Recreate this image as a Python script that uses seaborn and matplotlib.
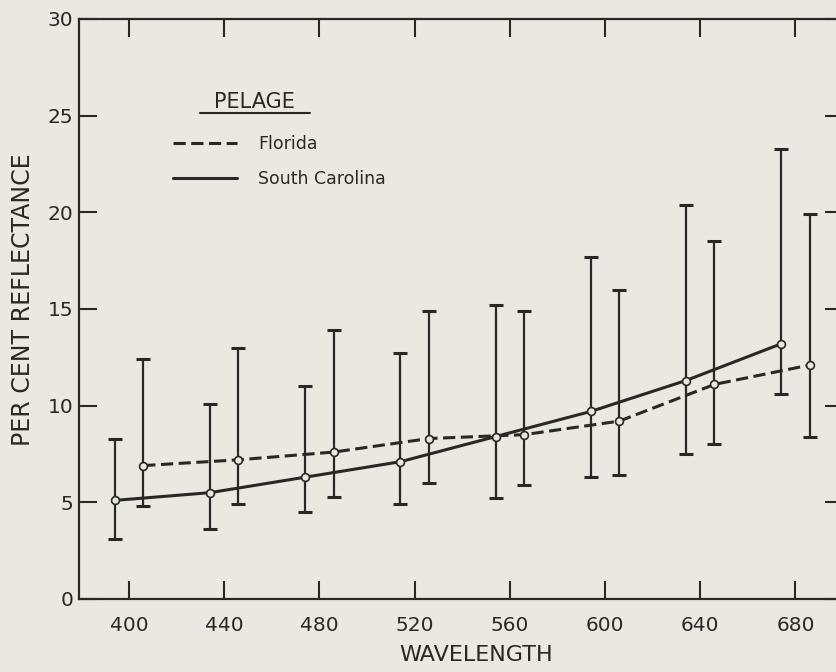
import numpy as np
import pandas as pd
import matplotlib
matplotlib.use('Agg')
import matplotlib.pyplot as plt
from matplotlib.lines import Line2D
import seaborn as sns

# wavelength (nm) and pelage reflectance (%)
wavelengths = [400, 440, 480, 520, 560, 600, 640, 680]

florida_mean = [6.9, 7.2, 7.6, 8.3, 8.5, 9.2, 11.1, 12.1]
florida_low = [4.8, 4.9, 5.3, 6.0, 5.9, 6.4, 8.0, 8.4]
florida_high = [12.4, 13.0, 13.9, 14.9, 14.9, 16.0, 18.5, 19.9]

carolina_mean = [5.1, 5.5, 6.3, 7.1, 8.4, 9.7, 11.3, 13.2]
carolina_low = [3.1, 3.6, 4.5, 4.9, 5.2, 6.3, 7.5, 10.6]
carolina_high = [8.3, 10.1, 11.0, 12.7, 15.2, 17.7, 20.4, 23.3]

series = ['Florida', 'South Carolina']
x_ticks = [400, 440, 480, 520, 560, 600, 640, 680]
y_ticks = [0, 5, 10, 15, 20, 25, 30]

paper = '#ebe8e2'
ink = '#2a2826'

frames = []
for name, m, lo, hi, shift in [('Florida', florida_mean, florida_low, florida_high, 6),
                               ('South Carolina', carolina_mean, carolina_low, carolina_high, -6)]:
    frames.append(pd.DataFrame({'series': name, 'wavelength': wavelengths,
                                'mean': m, 'low': lo, 'high': hi, 'shift': shift}))
df = pd.concat(frames, ignore_index=True)
df['x'] = df['wavelength'] + df['shift']

sns.set_theme(style='ticks')
plt.rcParams['font.family'] = ['DejaVu Sans']
plt.rcParams['text.color'] = ink

fig = plt.figure(figsize=(8.37, 6.72), dpi=100, facecolor=paper)
ax = fig.add_axes([79 / 837, 73 / 672, 764 / 837, 580 / 672])
ax.set_facecolor(paper)

sns.lineplot(data=df, x='x', y='mean', style='series',
             dashes={'Florida': (4, 1.8), 'South Carolina': ''},
             color=ink, lw=2.2, legend=False, ax=ax, zorder=2)

for name, grp in df.groupby('series'):
    ax.errorbar(grp['x'], grp['mean'],
                yerr=[grp['mean'] - grp['low'], grp['high'] - grp['mean']],
                fmt='none', ecolor=ink, elinewidth=1.6, capsize=5, capthick=2.2, zorder=3)

sns.scatterplot(data=df, x='x', y='mean', marker='o', s=32, color=paper,
                edgecolor=ink, linewidth=1.2, legend=False, ax=ax, zorder=4)

ax.set_xlim(379, 700)
ax.set_ylim(0, 30)
ax.set_xticks(x_ticks)
ax.set_yticks(y_ticks)
ax.tick_params(direction='in', length=13, width=1.5, color=ink, labelcolor=ink,
               labelsize=14.5, top=True, right=True)
ax.tick_params(axis='x', pad=12)
ax.tick_params(axis='y', pad=4)
for s in ax.spines.values():
    s.set_linewidth(1.6)
    s.set_color(ink)

ax.set_xlabel('WAVELENGTH', fontsize=16, color=ink)
ax.set_ylabel('PER CENT REFLECTANCE', fontsize=17, color=ink)
ax.xaxis.set_label_coords(0.52, -0.079)
ax.yaxis.set_label_coords(-0.058, 0.5155)

# legend
ax.text(0.230, 0.8466, 'PELAGE', transform=ax.transAxes, ha='center', va='baseline',
        fontsize=15, color=ink)
ax.plot([0.158, 0.302], [0.8379, 0.8379], transform=ax.transAxes, color=ink, lw=1.5)
handles = [Line2D([], [], color=ink, lw=2.2, dashes=(4, 1.8)),
           Line2D([], [], color=ink, lw=2.2)]
ax.legend(handles, series, loc='upper left', bbox_to_anchor=(0.123, 0.80),
          frameon=False, fontsize=12.5, handlelength=3.7, handletextpad=1.2,
          labelspacing=1.0, borderpad=0, borderaxespad=0, labelcolor=ink)

plt.savefig('out.png', dpi=100, facecolor=paper)
